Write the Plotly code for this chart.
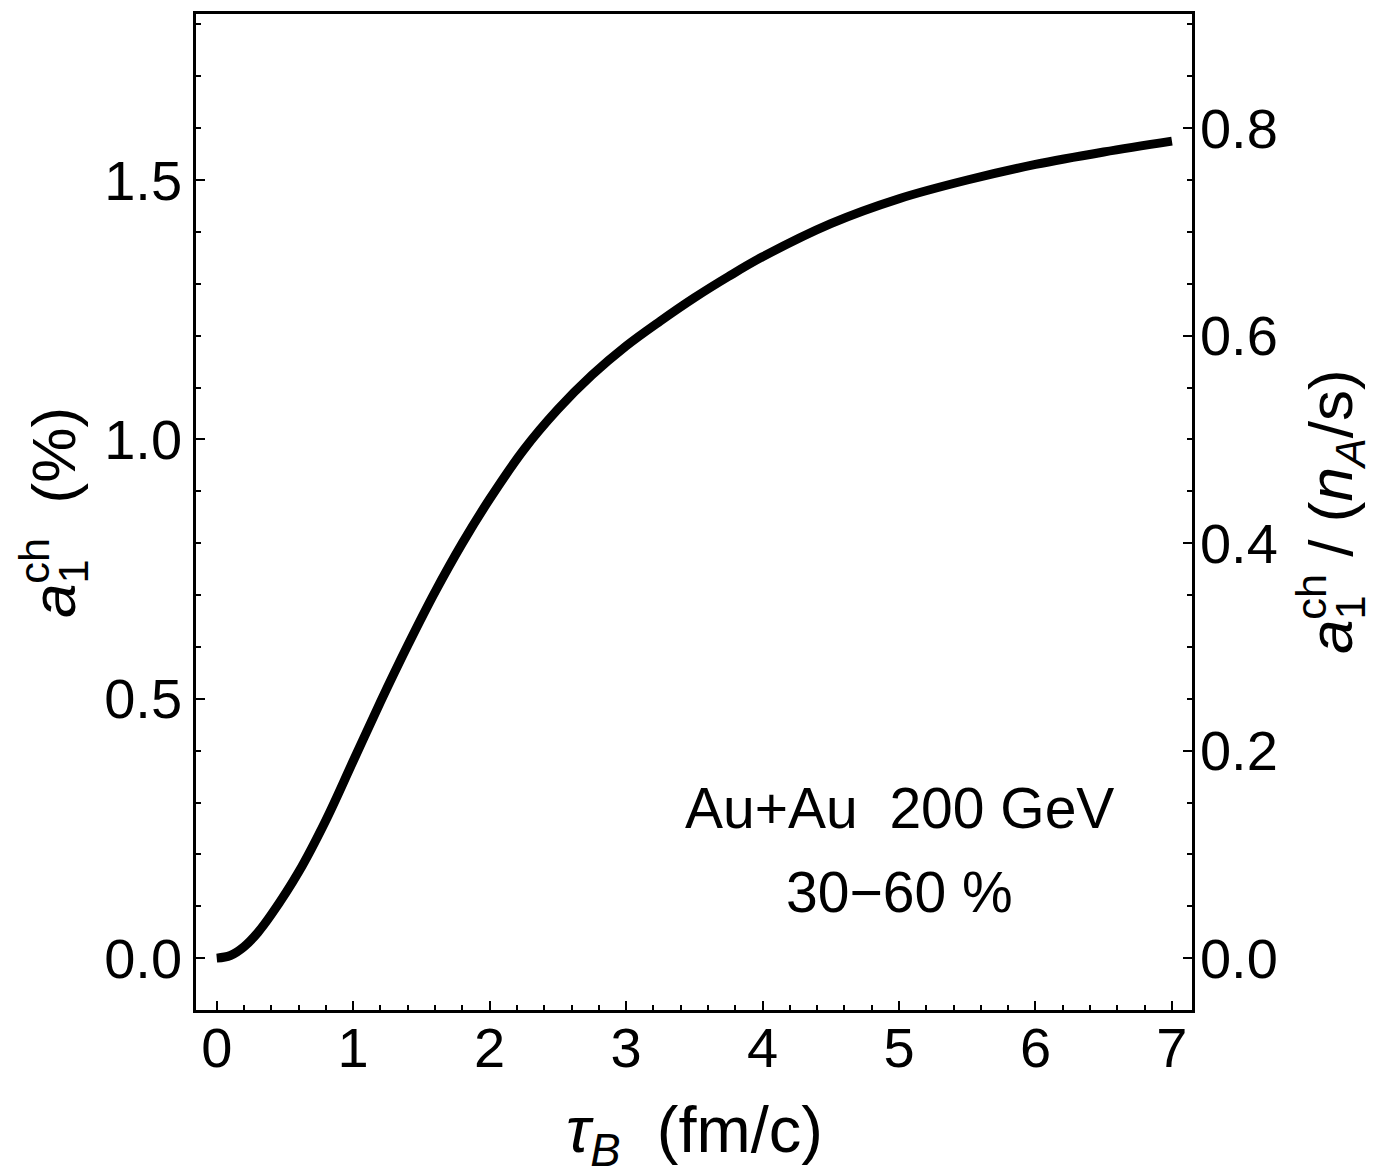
import plotly.graph_objects as go

# Data
tau_B = [0.0, 0.1, 0.2, 0.3, 0.4, 0.6, 0.8, 1.0, 1.2, 1.4, 1.6, 1.8, 2.0, 2.25, 2.5, 2.75,
         3.0, 3.25, 3.5, 3.75, 4.0, 4.5, 5.0, 5.5, 6.0, 6.5, 7.0]
a1_ch = [0.0, 0.005, 0.022, 0.049, 0.084, 0.166, 0.266, 0.380, 0.494, 0.603, 0.706, 0.800,
         0.885, 0.980, 1.058, 1.124, 1.180, 1.228, 1.273, 1.314, 1.352, 1.416, 1.464,
         1.500, 1.530, 1.554, 1.575]

x_ticks = [0, 1, 2, 3, 4, 5, 6, 7]
y_ticks = [0.0, 0.5, 1.0, 1.5]
y2_ticks = [0.0, 0.2, 0.4, 0.6, 0.8]

FONT = "Liberation Sans, Arial, Helvetica, sans-serif"
TICK_SIZE = 56
TITLE_SIZE = 62
XTITLE_SIZE = 65
ANN_SIZE = 57
NB = "\u00a0"

fig = go.Figure()
fig.add_trace(go.Scatter(x=tau_B, y=a1_ch, mode="lines",
                         line=dict(color="black", width=9, shape="spline", smoothing=1.0),
                         showlegend=False, hoverinfo="skip"))
# invisible trace to activate the right axis
fig.add_trace(go.Scatter(x=[tau_B[0]], y=[a1_ch[0] / 2], yaxis="y2", mode="markers",
                         marker=dict(opacity=0), showlegend=False, hoverinfo="skip"))

axis_common = dict(showgrid=False, zeroline=False, showline=True, linecolor="black",
                   linewidth=2.5, ticks="inside", tickcolor="black", tickwidth=2,
                   ticklen=9, tickfont=dict(family=FONT, size=TICK_SIZE, color="black"))

fig.update_layout(
    width=1373, height=1170,
    margin=dict(l=196, r=181, t=14, b=160, pad=0),
    paper_bgcolor="white", plot_bgcolor="white",
    xaxis=dict(range=[-0.152, 7.147], tickvals=x_ticks, ticktext=[str(v) for v in x_ticks],
               mirror=True, ticklabelstandoff=-13,
               minor=dict(dtick=0.2, tick0=0, ticks="inside", ticklen=5, tickwidth=1.5, tickcolor="black"),
               **axis_common),
    yaxis=dict(range=[-0.1, 1.82], tickvals=y_ticks, ticktext=[f"{v:.1f}" for v in y_ticks],
               mirror=True, ticklabelstandoff=0,
               minor=dict(dtick=0.1, tick0=0, ticks="inside", ticklen=5, tickwidth=1.5, tickcolor="black"),
               **axis_common),
    yaxis2=dict(range=[-0.05, 0.91], tickvals=y2_ticks, ticktext=[f"{v:.1f}" for v in y2_ticks],
                overlaying="y", side="right", ticklabelstandoff=-6,
                minor=dict(dtick=0.05, tick0=0, ticks="inside", ticklen=5, tickwidth=1.5, tickcolor="black"),
                **axis_common),
)

stack = ("<i>a</i><sub><span style='letter-spacing:-0.56em'>1</span></sub><sup>ch</sup>")

annots = [
    dict(text="<i>τ</i><sub><i>B</i></sub>" + NB * 2 + "(fm/c)", x=0.5, y=-0.1245,
         xref="paper", yref="paper", xanchor="center", yanchor="middle",
         font=dict(family=FONT, size=XTITLE_SIZE, color="black"), showarrow=False),
    dict(text=stack + NB * 2 + "(%)", x=-0.1476, y=0.5, textangle=-90,
         xref="paper", yref="paper", xanchor="center", yanchor="middle",
         font=dict(family=FONT, size=TITLE_SIZE, color="black"), showarrow=False),
    dict(text=stack + NB + "/" + NB + "(<i>n</i><sub><i>A</i></sub>/s)", x=1.1386, y=0.5, textangle=-90,
         xref="paper", yref="paper", xanchor="center", yanchor="middle",
         font=dict(family=FONT, size=TITLE_SIZE, color="black"), showarrow=False),
    dict(text="Au+Au" + NB * 2 + "200 GeV", x=5.0, y=0.29,
         xref="x", yref="y", xanchor="center", yanchor="middle",
         font=dict(family=FONT, size=ANN_SIZE, color="black"), showarrow=False),
    dict(text="30\u221260 %", x=5.0, y=0.127,
         xref="x", yref="y", xanchor="center", yanchor="middle",
         font=dict(family=FONT, size=ANN_SIZE, color="black"), showarrow=False),
]
fig.update_layout(annotations=annots)

fig.write_html("out.html")
